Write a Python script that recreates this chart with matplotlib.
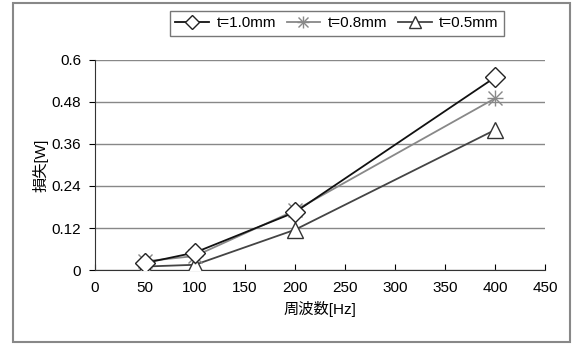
import matplotlib
matplotlib.use("Agg")
import matplotlib.pyplot as plt
from matplotlib.lines import Line2D
from matplotlib.patches import Rectangle

plt.rcParams['font.family'] = ['Liberation Sans', 'Noto Sans CJK JP']

freq = [50, 100, 200, 400]
loss_10 = [0.02, 0.05, 0.165, 0.55]
loss_08 = [0.025, 0.04, 0.17, 0.49]
loss_05 = [0.01, 0.015, 0.115, 0.40]
labels = ['t=1.0mm', 't=0.8mm', 't=0.5mm']
yticks = [0, 0.12, 0.24, 0.36, 0.48, 0.6]
xticks = [0, 50, 100, 150, 200, 250, 300, 350, 400, 450]

fig = plt.figure(figsize=(5.74, 3.44), dpi=100)
# outer chart frame
fig.patches.append(Rectangle((0.023, 0.006), 0.970, 0.985, transform=fig.transFigure,
                             fill=False, ec='#888888', lw=1.5))
ax = fig.add_axes([0.1655, 0.215, 0.784, 0.611])

ax.plot(freq, loss_10, color='#111111', lw=1.3, marker='D', ms=10,
        mfc='white', mec='#222222', mew=1.0, zorder=5)
ax.plot(freq, loss_08, color='#888888', lw=1.3, zorder=4)
ax.plot(freq, loss_08, ls='none', marker='x', ms=10, mec='#888888', mew=1.0, zorder=4)
ax.plot(freq, loss_08, ls='none', marker='+', ms=12, mec='#888888', mew=1.0, zorder=4)
ax.plot(freq, loss_05, color='#444444', lw=1.3, marker='^', ms=12,
        mfc='white', mec='#333333', mew=1.0, zorder=3)

ax.set_xlim(0, 450)
ax.set_ylim(0, 0.6)
ax.set_xticks(xticks)
ax.set_yticks(yticks)
ax.set_yticklabels(['0', '0.12', '0.24', '0.36', '0.48', '0.6'])
ax.yaxis.grid(True, color='#888888', lw=1.0)
ax.set_axisbelow(True)
for s in ['top', 'right']:
    ax.spines[s].set_visible(False)
for s in ['left', 'bottom']:
    ax.spines[s].set_color('#333333')
ax.tick_params(axis='x', direction='in', length=4, labelsize=11, pad=8)
ax.tick_params(axis='y', direction='out', length=4, labelsize=11, pad=6)
ax.set_xlabel('周波数[Hz]', fontsize=11, labelpad=4)
ax.set_ylabel('損失[W]', fontsize=11, labelpad=2)

h10 = Line2D([], [], color='#111111', lw=1.3, marker='D', ms=7, mfc='white', mec='#222222')
h08 = (Line2D([], [], color='#888888', lw=1.3),
       Line2D([], [], ls='none', marker='x', ms=7, mec='#888888'),
       Line2D([], [], ls='none', marker='+', ms=9, mec='#888888'))
h05 = Line2D([], [], color='#444444', lw=1.3, marker='^', ms=8, mfc='white', mec='#333333')
leg = fig.legend([h10, h08, h05], labels, loc='upper center', bbox_to_anchor=(0.587, 0.99),
                 ncol=3, fontsize=11, frameon=True, fancybox=False,
                 handlelength=2.2, handletextpad=0.5, columnspacing=0.7,
                 borderpad=0.35)
leg.get_frame().set_edgecolor('#555555')
leg.get_frame().set_linewidth(1.0)

fig.savefig('out.png', dpi=100)
